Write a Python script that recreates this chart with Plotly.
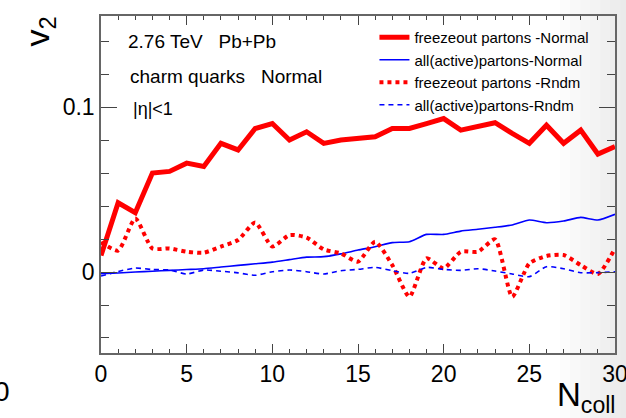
import plotly.graph_objects as go

# Number of binary collisions (x axis)
n_coll = list(range(0, 31))

# Elliptic flow v2 of charm quarks, |eta|<1
v2_freeze_normal = [0.010, 0.042, 0.036, 0.060, 0.061, 0.066, 0.064, 0.078, 0.074, 0.087,
                    0.090, 0.080, 0.085, 0.078, 0.080, 0.081, 0.082, 0.087, 0.087, 0.090,
                    0.093, 0.086, 0.0885, 0.0905, 0.084, 0.078, 0.089, 0.078, 0.086, 0.0715,
                    0.076]
v2_all_normal = [-0.001, -0.0006, 0.0, 0.0005, 0.001, 0.0015, 0.002, 0.003, 0.004, 0.005,
                 0.006, 0.0075, 0.009, 0.0093, 0.011, 0.0133, 0.0153, 0.0178, 0.0184, 0.0228,
                 0.0228, 0.0248, 0.0259, 0.0271, 0.0285, 0.0315, 0.0299, 0.0309, 0.0331, 0.0315,
                 0.035]
v2_freeze_rndm = [0.018, 0.013, 0.0325, 0.0143, 0.0143, 0.0123, 0.0117, 0.0154, 0.0194, 0.030,
                  0.0154, 0.0224, 0.0209, 0.0137, 0.0113, 0.0063, 0.0184, 0.0042, -0.015, 0.0083,
                  0.0022, 0.0123, 0.0123, 0.0198, -0.015, 0.0052, 0.0097, 0.0103, 0.0042, -0.0012,
                  0.0143]
v2_all_rndm = [-0.0024, 0.0003, 0.0024, 0.0015, 0.0012, -0.0012, 0.0012, 0.0005, -0.0005, -0.002,
               0.0002, 0.0012, 0.0002, -0.0012, 0.0008, 0.0016, 0.0028, 0.0008, -0.0008, 0.0028,
               0.0016, 0.001, 0.002, 0.0006, -0.0012, -0.0028, 0.0032, 0.002, -0.0004, -0.0004,
               0.0002]

FONT = "Liberation Sans, Arial, Helvetica, sans-serif"

fig = go.Figure()

fig.add_trace(go.Scatter(
    x=n_coll, y=v2_freeze_normal, mode="lines", name="freezeout partons -Normal",
    line=dict(color="#ff0000", width=5)))
fig.add_trace(go.Scatter(
    x=n_coll, y=v2_all_normal, mode="lines", name="all(active)partons-Normal",
    line=dict(color="#0000ff", width=1.6, shape="spline", smoothing=0.5)))
fig.add_trace(go.Scatter(
    x=n_coll, y=v2_freeze_rndm, mode="lines", name="freezeout partons -Rndm",
    line=dict(color="#ff0000", width=4, dash="4px,4px", shape="spline", smoothing=0.6)))
fig.add_trace(go.Scatter(
    x=n_coll, y=v2_all_rndm, mode="lines", name="all(active)partons-Rndm",
    line=dict(color="#0000ff", width=1.6, dash="5px,4px", shape="spline", smoothing=0.6)))

# light grey band fading in along the right edge of the page
shapes = []
for x0 in [0.893, 0.912, 0.932, 0.951, 0.971, 0.990, 1.010]:
    shapes.append(dict(type="rect", xref="paper", yref="paper", x0=x0, x1=1.03,
                       y0=-0.2, y1=1.06, fillcolor="rgba(0,0,0,0.011)",
                       line=dict(width=0), layer="below"))

annotations = [
    dict(text="2.76 TeV\u00a0\u00a0\u00a0Pb+Pb", xref="paper", yref="paper",
         x=0.048, y=0.923, xanchor="left", yanchor="middle", showarrow=False,
         font=dict(family=FONT, size=19, color="black")),
    dict(text="charm quarks\u00a0\u00a0\u00a0Normal", xref="paper", yref="paper",
         x=0.052, y=0.819, xanchor="left", yanchor="middle", showarrow=False,
         font=dict(family=FONT, size=19, color="black")),
    dict(text="|\u03b7|<1", xref="paper", yref="paper",
         x=0.058, y=0.724, xanchor="left", yanchor="middle", showarrow=False,
         font=dict(family=FONT, size=18, color="black")),
    dict(text="v<sub>2</sub>", xref="paper", yref="paper",
         x=-0.12, y=0.955, xanchor="center", yanchor="middle", textangle=-90,
         showarrow=False, font=dict(family=FONT, size=34, color="black")),
    dict(text="N<sub>coll</sub>", xref="paper", yref="paper",
         x=1.006, y=-0.062, xanchor="right", yanchor="top", showarrow=False,
         font=dict(family=FONT, size=33, color="black")),
    dict(text="0", xref="paper", yref="paper",
         x=-0.173, y=-0.113, xanchor="right", yanchor="middle", showarrow=False,
         font=dict(family=FONT, size=28, color="black")),
]

axis_common = dict(
    showline=True, linecolor="#666666", linewidth=1.5, mirror="allticks",
    ticks="inside", tickcolor="#444444", tickwidth=1.2,
    showgrid=False, zeroline=False, automargin=False, ticklabeloverflow="allow",
    tickfont=dict(family=FONT, size=23, color="black"),
)

fig.update_layout(
    width=626, height=418,
    margin=dict(l=101, r=11, t=16, b=65),
    paper_bgcolor="white", plot_bgcolor="rgba(0,0,0,0)",
    showlegend=True,
    legend=dict(x=0.532, y=0.985, xanchor="left", yanchor="top",
                bgcolor="rgba(0,0,0,0)", borderwidth=0,
                font=dict(family=FONT, size=15, color="black"),
                tracegroupgap=0, itemwidth=30),
    xaxis=dict(range=[0, 30], dtick=5, tick0=0, ticklen=9,
               minor=dict(dtick=1, ticklen=4.5, ticks="inside", tickcolor="#444444"),
               **axis_common),
    yaxis=dict(range=[-0.0491, 0.1552], dtick=0.1, tick0=0, ticklen=16,
               minor=dict(dtick=0.02, ticklen=8, ticks="inside", tickcolor="#444444"),
               **axis_common),
    shapes=shapes,
    annotations=annotations,
)

fig.write_html("out.html")
